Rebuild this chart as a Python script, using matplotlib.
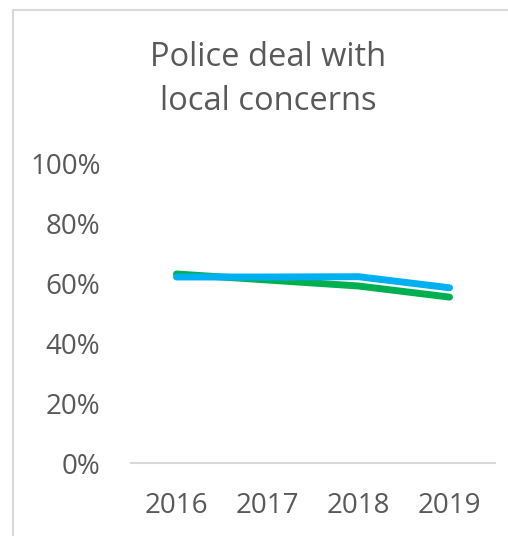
import matplotlib.pyplot as plt
from matplotlib.patches import Rectangle
from matplotlib.ticker import PercentFormatter

years = ['2016', '2017', '2018', '2019']
green_vals = [0.63, 0.61, 0.59, 0.553]
blue_vals = [0.62, 0.62, 0.621, 0.584]
y_ticks = [0, 0.2, 0.4, 0.6, 0.8, 1.0]

plt.rcParams['font.family'] = ['Open Sans', 'DejaVu Sans']
text_color = '#595959'

fig = plt.figure(figsize=(5.08, 5.36), dpi=100)

# chart border, cut off at right and bottom like the source screenshot
fig.patches.append(Rectangle((13 / 508, -0.05), 1.1, 1 - 10 / 536 + 0.05,
                             transform=fig.transFigure, fill=False,
                             edgecolor='#d9d9d9', linewidth=1.5))

ax = fig.add_axes([131 / 508, 73 / 536, 364 / 508, 300 / 536])
x = range(len(years))
ax.plot(x, green_vals, color='#00B050', linewidth=5, solid_capstyle='round')
ax.plot(x, blue_vals, color='#00B0F0', linewidth=5, solid_capstyle='round')

ax.set_xlim(-0.5, len(years) - 0.5)
ax.set_ylim(0, 1)
ax.set_yticks(y_ticks)
ax.yaxis.set_major_formatter(PercentFormatter(1.0, decimals=0))
ax.set_xticks(list(x))
ax.set_xticklabels(years)
ax.tick_params(axis='both', length=0, labelsize=20, colors=text_color)
ax.tick_params(axis='y', pad=22)
ax.tick_params(axis='x', pad=21)

for side in ['top', 'right', 'left']:
    ax.spines[side].set_visible(False)
ax.spines['bottom'].set_color('#d9d9d9')
ax.spines['bottom'].set_linewidth(1.5)

fig.text(268 / 508, 1 - 66 / 536, 'Police deal with', ha='center',
         va='baseline', fontsize=23.5, color=text_color)
fig.text(268 / 508, 1 - 110 / 536, 'local concerns', ha='center',
         va='baseline', fontsize=23.5, color=text_color)

fig.savefig('out.png', dpi=100)
